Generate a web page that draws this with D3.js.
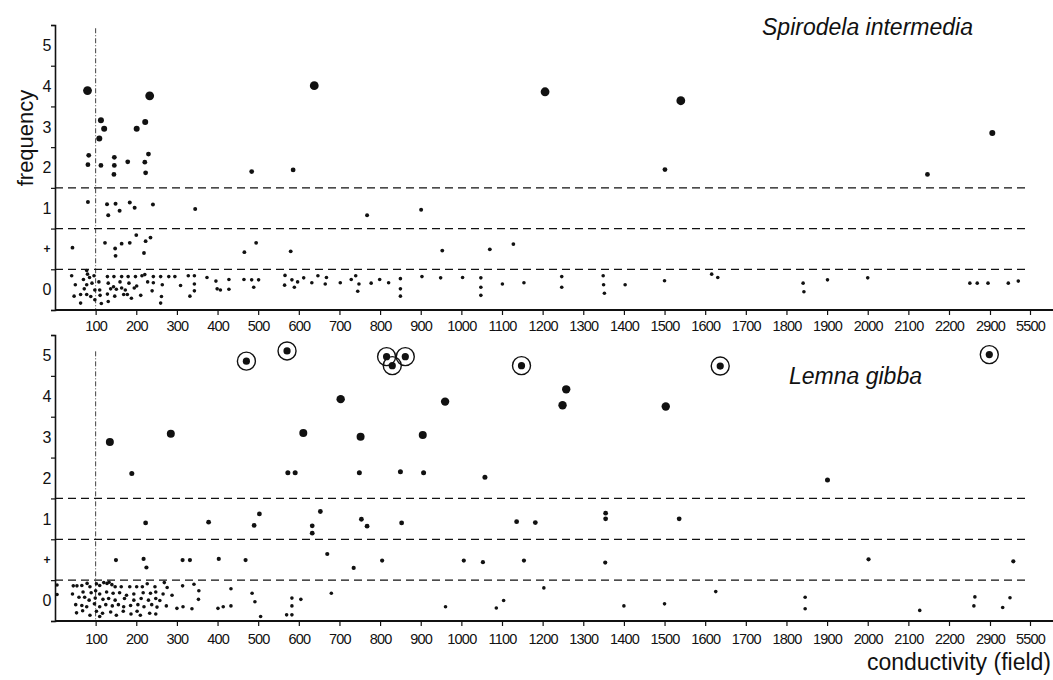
<!DOCTYPE html>
<html>
<head>
<meta charset="utf-8">
<script src="https://cdn.jsdelivr.net/npm/d3@7.9.0/dist/d3.min.js"></script>
<style>
  body { margin: 0; background: #fff; }
  svg { display: block; }
  .tick text { font-family: "Liberation Sans", Arial, sans-serif; }
</style>
</head>
<body>
<svg id="chart" width="1053" height="680"></svg>
<script>
// --- data: [conductivity, frequency level] ---
// level: band 0 = "0", 1 = "+", 2 = "1", ... 6 = "5"
const xTickValues = [100, 200, 300, 400, 500, 600, 700, 800, 900, 1000, 1100, 1200,
  1300, 1400, 1500, 1600, 1700, 1800, 1900, 2000, 2100, 2200, 2900, 5500];
const yTickLabels = ['0', '+', '1', '2', '3', '4', '5'];

const spirodelaAbove = [
  [80, 5.39], [233, 5.26], [638, 5.51], [1206, 5.36], [1540, 5.14],
  [113, 4.66], [121, 4.45], [109, 4.21], [201, 4.45], [222, 4.62], [3050, 4.35],
  [83, 3.80], [81, 3.57], [113, 3.55], [146, 3.75], [146, 3.55], [145, 3.33], [179, 3.64],
  [221, 3.63], [230, 3.83], [223, 3.37], [484, 3.40], [586, 3.44], [1501, 3.45], [2147, 3.33],
  [81, 2.65], [128, 2.60], [149, 2.61], [131, 2.33], [159, 2.44], [184, 2.64], [196, 2.51],
  [241, 2.59], [345, 2.48], [768, 2.33], [901, 2.46],
  [43, 1.53], [123, 1.65], [148, 1.51], [149, 1.33], [164, 1.63], [184, 1.65], [200, 1.84],
  [223, 1.69], [235, 1.78], [219, 1.40], [466, 1.42], [495, 1.65], [580, 1.44], [953, 1.46],
  [1070, 1.49], [1128, 1.62]
];

const spirodelaZero = [
  [41, 0.84], [50, 0.62], [47, 0.34], [63, 0.38], [63, 0.17], [70, 0.75], [72, 0.52], [78, 0.97],
  [80, 0.88], [85, 0.80], [78, 0.62], [78, 0.38], [88, 0.33], [91, 0.66], [96, 0.84], [98, 0.49],
  [98, 0.25], [108, 0.69], [110, 0.49], [111, 0.36], [114, 0.16], [129, 0.82], [131, 0.66],
  [129, 0.39], [131, 0.21], [137, 0.52], [145, 0.82], [144, 0.57], [147, 0.34], [151, 0.51],
  [160, 0.69], [164, 0.82], [164, 0.54], [169, 0.38], [173, 0.49], [180, 0.82], [182, 0.66],
  [178, 0.38], [188, 0.29], [195, 0.54], [198, 0.82], [201, 0.59], [211, 0.36], [214, 0.84],
  [221, 0.87], [228, 0.69], [239, 0.47], [242, 0.82], [242, 0.67], [260, 0.82], [264, 0.62],
  [262, 0.33], [260, 0.17], [280, 0.82], [295, 0.82], [309, 0.60],
  [328, 0.84], [343, 0.84], [343, 0.64], [343, 0.47], [332, 0.34], [374, 0.80], [396, 0.71],
  [399, 0.52], [407, 0.49], [428, 0.75], [428, 0.51], [465, 0.75], [484, 0.74], [489, 0.56],
  [501, 0.74], [566, 0.85], [565, 0.61], [583, 0.74], [589, 0.56], [597, 0.69], [612, 0.79],
  [632, 0.67], [647, 0.84], [665, 0.64], [668, 0.80],
  [702, 0.67], [729, 0.75], [740, 0.84], [748, 0.64], [745, 0.46], [778, 0.66], [799, 0.75],
  [821, 0.67], [850, 0.77], [850, 0.52], [850, 0.34], [903, 0.82], [949, 0.79], [1003, 0.80],
  [1048, 0.79], [1048, 0.56], [1048, 0.36], [1101, 0.64], [1154, 0.67], [1247, 0.82],
  [1247, 0.56], [1349, 0.84], [1350, 0.62], [1352, 0.41], [1403, 0.62], [1500, 0.72],
  [1616, 0.88], [1631, 0.80], [1841, 0.66], [1843, 0.45], [1901, 0.74], [2000, 0.79],
  [2556, 0.66], [2682, 0.66], [2866, 0.66], [4090, 0.66], [4740, 0.71]
];

const lemnaAbove = [
  [471, 6.36], [571, 6.61], [816, 6.47], [830, 6.25], [862, 6.47], [1148, 6.25], [1637, 6.24], [2888, 6.52],
  [703, 5.43], [960, 5.37], [1249, 5.28], [1258, 5.67], [1503, 5.25],
  [135, 4.38], [285, 4.58], [611, 4.60], [752, 4.51], [905, 4.55],
  [189, 3.61], [573, 3.63], [591, 3.63], [749, 3.63], [850, 3.65], [907, 3.63], [1058, 3.52], [1901, 3.45],
  [223, 2.40], [378, 2.42], [490, 2.34], [503, 2.62], [633, 2.33], [633, 2.15], [653, 2.68],
  [754, 2.49], [768, 2.32], [853, 2.40], [1136, 2.43], [1182, 2.41], [1355, 2.64], [1355, 2.50],
  [1536, 2.50],
  [150, 1.49], [218, 1.52], [225, 1.31], [314, 1.49], [332, 1.49], [403, 1.52], [469, 1.49],
  [670, 1.64], [735, 1.30], [805, 1.48], [1006, 1.48], [1053, 1.44], [1154, 1.48], [1354, 1.43],
  [2002, 1.51], [4415, 1.46]
];

const lemnaZero = [
  [5, 0.88], [5, 0.65],
  [45, 0.86], [54, 0.86], [66, 0.87], [79, 0.92], [86, 0.84], [102, 0.91], [110, 0.87], [120, 0.94],
  [128, 0.92], [133, 0.95], [140, 0.89], [148, 0.84], [163, 0.84], [184, 0.84], [201, 0.84],
  [215, 0.84], [227, 0.91], [246, 0.84], [269, 0.94], [276, 0.82],
  [43, 0.66], [69, 0.71], [89, 0.69], [100, 0.74], [110, 0.66], [127, 0.71], [143, 0.68],
  [159, 0.69], [176, 0.63], [194, 0.66], [217, 0.69], [235, 0.68], [248, 0.71], [266, 0.66], [288, 0.63],
  [59, 0.58], [73, 0.58], [84, 0.51], [99, 0.56], [118, 0.53], [132, 0.55], [148, 0.51],
  [171, 0.55], [194, 0.51], [212, 0.55], [230, 0.51], [248, 0.55], [258, 0.50],
  [51, 0.40], [66, 0.38], [78, 0.35], [97, 0.42], [110, 0.35], [125, 0.40], [141, 0.37],
  [156, 0.40], [169, 0.35], [186, 0.38], [204, 0.40], [219, 0.35], [238, 0.40], [251, 0.34], [274, 0.37],
  [53, 0.20], [68, 0.25], [86, 0.14], [102, 0.24], [117, 0.19], [110, 0.11], [137, 0.22],
  [151, 0.14], [168, 0.24], [187, 0.17], [202, 0.24], [210, 0.14], [233, 0.19], [248, 0.17],
  [314, 0.86], [342, 0.90], [354, 0.74], [353, 0.53], [300, 0.31], [315, 0.35], [337, 0.30],
  [401, 0.31], [414, 0.35], [433, 0.37], [433, 0.79], [485, 0.68], [492, 0.47], [506, 0.11],
  [583, 0.56], [583, 0.37], [583, 0.15], [570, 0.15], [605, 0.53], [680, 0.68], [961, 0.35],
  [1086, 0.32], [1104, 0.50], [1203, 0.81], [1400, 0.37], [1500, 0.42], [1626, 0.72],
  [1846, 0.58], [1846, 0.30], [2128, 0.26], [2642, 0.59], [2625, 0.37], [3725, 0.33], [4200, 0.57]
];

// --- setup ---
const svg = d3.select('#chart');
const ink = '#111';
const axisLeftX = 55;

// broken axis: equal spacing up to 2200, then 2900 and 5500 as extra steps
const x = d3.scaleLinear()
  .domain([0, 2200, 2900, 5500])
  .range([axisLeftX, 949, 990, 1030]);

const panels = [
  { name: 'Spirodela intermedia', top: 25, bottom: 310, above: spirodelaAbove, zero: spirodelaZero,
    radius: [1.8, 1.9, 2.0, 2.4, 3.0, 4.4, 4.4], labelPad: 6, dashEnd: 1025,
    vlineTop: 6.92, titleX: 762, titleY: 35 },
  { name: 'Lemna gibba', top: 335, bottom: 621, above: lemnaAbove, zero: lemnaZero,
    radius: [1.8, 2.1, 2.4, 2.5, 4.0, 4.2, 3.6], labelPad: 8, dashEnd: 1030,
    vlineTop: 6.6, titleX: 789, titleY: 384 }
];

panels.forEach((p, pi) => {
  const y = d3.scaleLinear().domain([0, 7]).range([p.bottom, p.top]);
  const g = svg.append('g');

  // dashed band separators
  [1, 2, 3].forEach(v => {
    g.append('line')
      .attr('x1', axisLeftX).attr('x2', p.dashEnd)
      .attr('y1', y(v)).attr('y2', y(v))
      .attr('stroke', ink).attr('stroke-width', 1.3)
      .attr('stroke-dasharray', '8,5');
  });

  // dash-dot line at conductivity 100
  g.append('line')
    .attr('x1', x(100)).attr('x2', x(100))
    .attr('y1', y(p.vlineTop)).attr('y2', y(0))
    .attr('stroke', ink).attr('stroke-width', 0.8)
    .attr('stroke-dasharray', '5,2,1,2');

  // left axis: ticks on band boundaries, labels in band centres
  const yAxis = d3.axisLeft(y).tickValues(d3.range(0, 8)).tickSize(4).tickFormat('');
  const ya = g.append('g').attr('transform', `translate(${axisLeftX},0)`).call(yAxis);
  ya.select('.domain').attr('stroke', ink).attr('stroke-width', 1.6);
  ya.selectAll('.tick line').attr('stroke', ink).attr('stroke-width', 1.2);

  g.selectAll('.ylab')
    .data(yTickLabels)
    .join('text')
    .attr('x', 47)
    .attr('y', (d, i) => y(i + 0.5))
    .attr('dy', '0.36em')
    .attr('text-anchor', 'middle')
    .attr('font-family', '"Liberation Sans", Arial, sans-serif')
    .attr('font-size', (d) => d === '+' ? 12 : 16)
    .attr('font-weight', (d) => d === '+' ? 'bold' : 'normal')
    .attr('fill', ink)
    .text(d => d);

  // bottom axis
  const xAxis = d3.axisBottom(x)
    .tickValues(xTickValues)
    .tickSize(5)
    .tickPadding(p.labelPad)
    .tickFormat(d3.format('d'));
  const xa = g.append('g').attr('transform', `translate(0,${p.bottom})`).call(xAxis);
  xa.select('.domain').attr('d', `M${axisLeftX},0H1053`).attr('stroke', ink).attr('stroke-width', 1.8);
  xa.selectAll('.tick line').attr('stroke', ink).attr('stroke-width', 1.2);
  xa.selectAll('.tick text')
    .attr('fill', ink)
    .attr('font-size', 14.5)
    .attr('letter-spacing', '-0.8px');

  // points
  const all = p.above.concat(p.zero);
  g.selectAll('circle.pt')
    .data(all)
    .join('circle')
    .attr('class', 'pt')
    .attr('cx', d => x(d[0]))
    .attr('cy', d => y(d[1]))
    .attr('r', d => p.radius[Math.min(6, Math.floor(d[1]))])
    .attr('fill', ink);

  // circled points in the top band of the Lemna panel
  if (pi === 1) {
    g.selectAll('circle.ring')
      .data(all.filter(d => d[1] >= 6))
      .join('circle')
      .attr('class', 'ring')
      .attr('cx', d => x(d[0]))
      .attr('cy', d => y(d[1]))
      .attr('r', 9)
      .attr('fill', 'none')
      .attr('stroke', ink)
      .attr('stroke-width', 1.4);
  }

  // species name
  g.append('text')
    .attr('x', p.titleX).attr('y', p.titleY)
    .attr('font-family', '"Liberation Sans", Arial, sans-serif')
    .attr('font-style', 'italic')
    .attr('font-size', 23)
    .attr('fill', ink)
    .text(p.name);
});

// axis titles
svg.append('text')
  .attr('transform', 'translate(33,138) rotate(-90)')
  .attr('text-anchor', 'middle')
  .attr('font-family', '"Liberation Sans", Arial, sans-serif')
  .attr('font-size', 22)
  .attr('fill', ink)
  .text('frequency');

svg.append('text')
  .attr('x', 1051).attr('y', 670)
  .attr('text-anchor', 'end')
  .attr('font-family', '"Liberation Sans", Arial, sans-serif')
  .attr('font-size', 23)
  .attr('fill', ink)
  .text('conductivity (field)');
</script>
</body>
</html>
